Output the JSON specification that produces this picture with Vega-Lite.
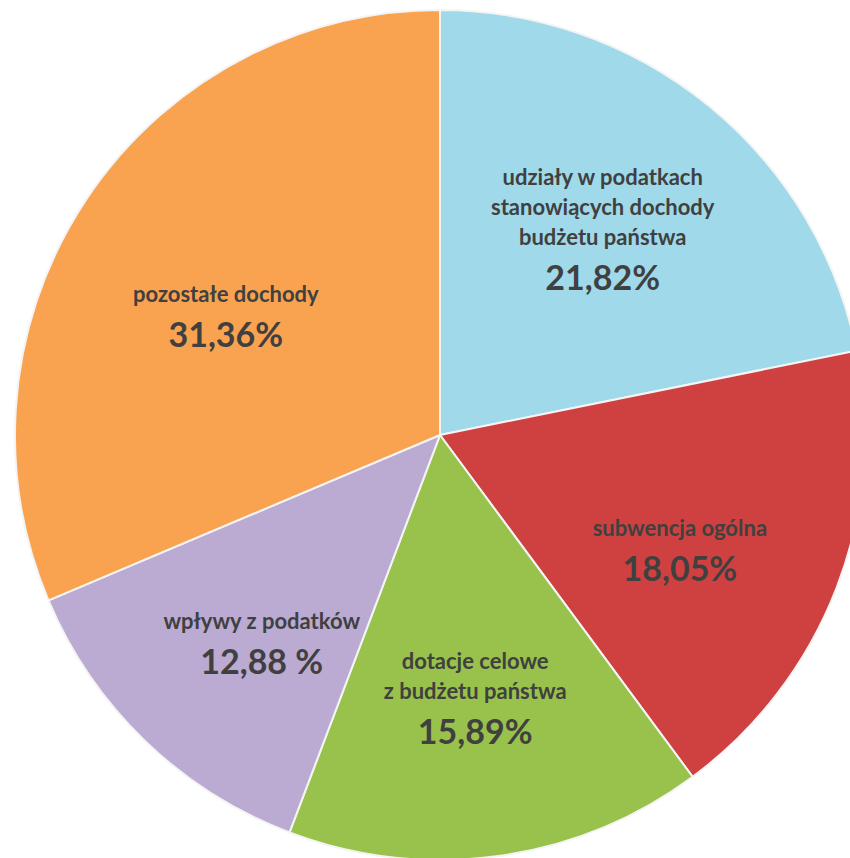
{
  "$schema": "https://vega.github.io/schema/vega-lite/v6.json",
  "width": 880,
  "height": 870,
  "padding": 0,
  "autosize": "none",
  "background": "white",
  "data": {
    "values": [
      {"idx": 1, "line_a": "udziały w podatkach", "line_b": "stanowiących dochody", "line_c": "budżetu państwa", "share": 21.82, "pct": "21,82%"},
      {"idx": 2, "line_a": "", "line_b": "", "line_c": "subwencja ogólna", "share": 18.05, "pct": "18,05%"},
      {"idx": 3, "line_a": "", "line_b": "dotacje celowe", "line_c": "z budżetu państwa", "share": 15.89, "pct": "15,89%"},
      {"idx": 4, "line_a": "", "line_b": "", "line_c": "wpływy z podatków", "share": 12.88, "pct": "12,88 %"},
      {"idx": 5, "line_a": "", "line_b": "", "line_c": "pozostałe dochody", "share": 31.36, "pct": "31,36%"}
    ]
  },
  "encoding": {
    "theta": {"field": "share", "type": "quantitative", "stack": true},
    "order": {"field": "idx", "type": "quantitative"}
  },
  "layer": [
    {
      "mark": {"type": "arc", "outerRadius": 425, "stroke": "#f4f4f4", "strokeWidth": 2},
      "encoding": {
        "color": {
          "field": "idx",
          "type": "nominal",
          "scale": {"domain": [1, 2, 3, 4, 5], "range": ["#9fd9ea", "#cf4140", "#98c24b", "#bbaad2", "#f9a24f"]},
          "legend": null
        }
      }
    },
    {
      "mark": {"type": "text", "radius": 257, "baseline": "bottom", "align": "center", "dy": -46, "font": "Lato", "fontWeight": "bold", "fontSize": 22, "color": "#404040"},
      "encoding": {"text": {"field": "line_a"}}
    },
    {
      "mark": {"type": "text", "radius": 257, "baseline": "bottom", "align": "center", "dy": -16, "font": "Lato", "fontWeight": "bold", "fontSize": 22, "color": "#404040"},
      "encoding": {"text": {"field": "line_b"}}
    },
    {
      "mark": {"type": "text", "radius": 257, "baseline": "bottom", "align": "center", "dy": 14, "font": "Lato", "fontWeight": "bold", "fontSize": 22, "color": "#404040"},
      "encoding": {"text": {"field": "line_c"}}
    },
    {
      "mark": {"type": "text", "radius": 257, "baseline": "top", "align": "center", "dy": 27, "font": "Lato", "fontWeight": "bold", "fontSize": 34, "color": "#404040"},
      "encoding": {"text": {"field": "pct"}}
    }
  ]
}
